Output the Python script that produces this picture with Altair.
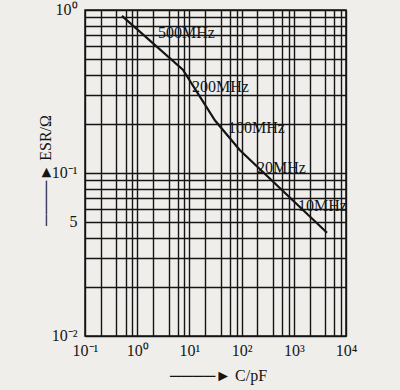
import altair as alt
import pandas as pd

# ESR vs capacitance curve
cap_pf = [0.51, 7.5, 31, 93, 4330]
esr_ohm = [0.92, 0.43, 0.21, 0.138, 0.043]

# frequency annotations along the curve
freq_labels = ["500MHz", "200MHz", "100MHz", "20MHz", "10MHz"]
label_cap = [2.5, 11.2, 54.8, 197, 1200]
label_esr = [0.72, 0.337, 0.19, 0.107, 0.0628]

# grid lines
x_grid = [0.1, 0.2, 0.4, 0.6, 0.8, 1, 2, 4, 6, 8, 10, 20, 40, 60, 80,
          100, 200, 400, 600, 800, 1000, 2000, 4000, 6000, 8000, 10000]
y_grid = [0.01, 0.02, 0.03, 0.04, 0.05, 0.06, 0.07, 0.08, 0.09,
          0.1, 0.2, 0.3, 0.4, 0.5, 0.6, 0.7, 0.8, 0.9, 1]

# tick labels
x_tick_values = [0.1, 1, 10, 100, 1000, 10000]
x_tick_text = ["10\u207b\u00b9", "10\u2070", "10\u00b9", "10\u00b2", "10\u00b3", "10\u2074"]
y_tick_values = [0.01, 0.05, 0.1, 1]
y_tick_text = ["10\u207b\u00b2", "5", "10\u207b\u00b9", "10\u2070"]

ARROW = "\u2500\u2500\u2500\u2500\u25ba"


def label_expr(values, texts):
    parts = [f"datum.value == {v} ? '{t}'" for v, t in zip(values, texts)]
    return " : ".join(parts) + " : ''"


line_df = pd.DataFrame({"C": cap_pf, "ESR": esr_ohm})
lab_df = pd.DataFrame({"C": label_cap, "ESR": label_esr, "f": freq_labels})

FONT = "Liberation Serif"
INK = "#151515"

xscale = alt.Scale(type="log", domain=[0.1, 10000], nice=False)
yscale = alt.Scale(type="log", domain=[0.01, 1], nice=False)

xaxis = alt.Axis(
    values=x_grid, labelExpr=label_expr(x_tick_values, x_tick_text),
    grid=True, gridColor=INK, gridWidth=1.4, gridOpacity=1,
    ticks=False, domain=False, labelOverlap=False, labelFlush=False,
    labelFont=FONT, labelFontSize=16, labelColor=INK, labelPadding=6,
    title=ARROW + " C/pF", titleFont=FONT, titleFontSize=16,
    titleFontWeight="normal", titleColor=INK,
    titleX=133, titleY=39, titleAlign="center", titleBaseline="middle",
)
yaxis = alt.Axis(
    values=y_grid, labelExpr=label_expr(y_tick_values, y_tick_text),
    grid=True, gridColor=INK, gridWidth=1.4, gridOpacity=1,
    ticks=False, domain=False, labelOverlap=False, labelFlush=False,
    labelFont=FONT, labelFontSize=16, labelColor=INK, labelPadding=8,
    labelOffset=-1,
    title=ARROW + " ESR/\u03a9", titleFont=FONT, titleFontSize=16,
    titleFontWeight="normal", titleColor=INK, titleAngle=270,
    titleX=-40, titleY=160, titleAlign="center", titleBaseline="middle",
)

curve = alt.Chart(line_df).mark_line(color=INK, strokeWidth=2.2).encode(
    x=alt.X("C:Q", scale=xscale, axis=xaxis),
    y=alt.Y("ESR:Q", scale=yscale, axis=yaxis),
)

labels = alt.Chart(lab_df).mark_text(
    font=FONT, fontSize=16, color=INK, align="left", baseline="middle"
).encode(
    x=alt.X("C:Q", scale=xscale, axis=xaxis),
    y=alt.Y("ESR:Q", scale=yscale, axis=yaxis),
    text="f:N",
)

chart = alt.layer(curve, labels).properties(
    width=261, height=326,
    autosize=alt.AutoSizeParams(type="none"),
    padding={"left": 85, "top": 10, "right": 54, "bottom": 54},
    background="#efeeeb",
).configure_view(stroke=INK, strokeWidth=1.5)

chart.save("out.html", embed_options={"renderer": "svg", "actions": False})
